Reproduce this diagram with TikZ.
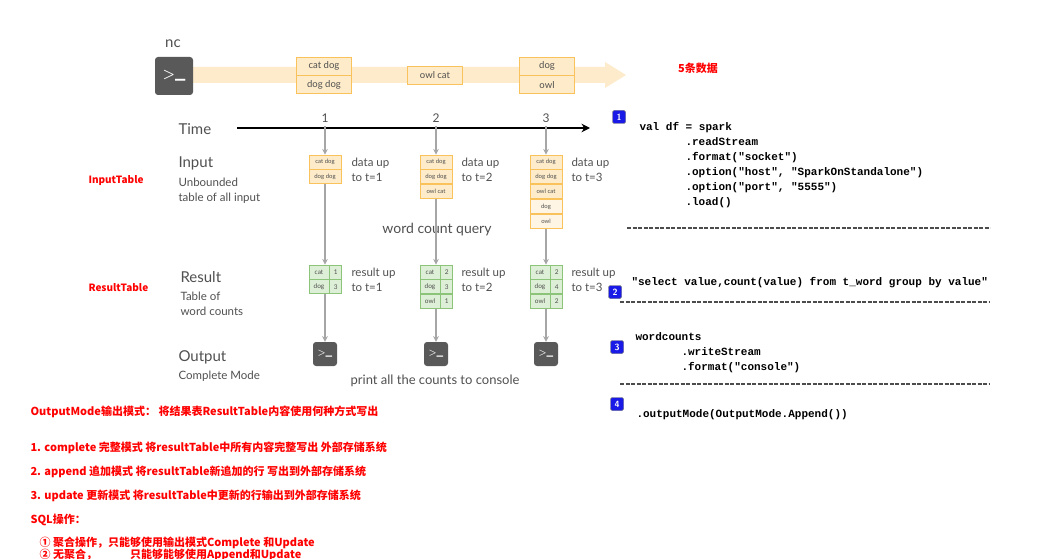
\documentclass[tikz,border=0pt]{standalone}
\usepackage{fontspec}
\setmainfont{Lato}
\newfontfamily\codefont{Liberation Mono}
\newfontfamily\cjk{Noto Sans CJK SC}
\usetikzlibrary{arrows.meta,positioning}
\definecolor{inborder}{HTML}{F9C25A}
\definecolor{infill}{HTML}{FDEBC9}
\definecolor{resborder}{HTML}{8CC47A}
\definecolor{resfill}{HTML}{DDEFD6}
\definecolor{band}{HTML}{FDEBCB}
\definecolor{badge}{HTML}{1A1AE6}
\definecolor{labelgray}{HTML}{505050}
\newcommand{\ind}{\hspace*{46pt}}
\tikzset{%
  >={Stealth[width=2mm,length=2mm]},
  % Specifications for style of nodes:
  incell/.style = {rectangle, draw=inborder, fill=infill, line width=0.8pt,
                   minimum width=32, minimum height=14, inner sep=0pt,
                   font=\fontsize{6}{6}\selectfont, text=labelgray},
  bandcell/.style = {incell, minimum width=55, minimum height=18,
                     font=\fontsize{9.5}{9.5}\selectfont},
  rescell/.style = {rectangle, draw=resborder, fill=resfill, line width=0.8pt,
                    minimum height=14, inner sep=0pt,
                    font=\fontsize{6.5}{6.5}\selectfont, text=labelgray},
  term/.style = {rectangle, rounded corners=3, fill=black!65, text=white,
                 inner sep=0pt, font=\bfseries\sffamily},
  flow/.style = {->, gray!70, line width=1.2pt},
  side/.style = {anchor=west, text=labelgray, align=left},
  redtext/.style = {anchor=west, text=red, font=\cjk\bfseries\fontsize{11}{11}\selectfont},
  code/.style = {anchor=north west, align=left, font=\codefont\bfseries\fontsize{11}{15}\selectfont},
  num/.style = {rectangle, rounded corners=1.5, draw=black!60, fill=badge, text=white,
                minimum size=13, inner sep=0pt, font=\sffamily\bfseries\fontsize{9}{9}\selectfont},
  sep/.style = {dash pattern=on 4pt off 1.5pt, line width=1.2pt, black!70}
}
\begin{document}
\begin{tikzpicture}[x=1pt, y=-1pt]
  \useasboundingbox (0,0) rectangle (1047,559);
  % source band
  \fill[band] (193,67) -- (605,67) -- (605,62) -- (626,75) -- (605,88) -- (605,83) -- (193,83) -- cycle;
  \node (nc) [text=labelgray, font=\fontsize{15}{15}\selectfont] at (173,44) {nc};
  \node (src) [term, minimum size=38] at (174,76) {\fontsize{14}{14}\selectfont >\_};
  \node (b1a) [bandcell] at (324,66) {cat dog};
  \node (b1b) [bandcell, below=0pt of b1a] {dog dog};
  \node (b2)  [bandcell] at (435,75) {owl cat};
  \node (b3a) [bandcell] at (547,66) {dog};
  \node (b3b) [bandcell, below=0pt of b3a] {owl};
  \node (five) [text=red, font=\cjk\bfseries\fontsize{11}{11}\selectfont] at (698,68) {5条数据};
  % time axis
  \node (time) [side, font=\fontsize{15}{15}\selectfont] at (175,129) {Time};
  \coordinate (t0) at (237,128);
  \coordinate (t1) at (590,128);
  \draw[-{Stealth[width=3mm,length=3mm]}, line width=1.5pt] (t0) -- (t1);
  \foreach \x/\n in {325/1,436/2,546/3}
    \node (tick\n) [text=labelgray, font=\fontsize{12}{12}\selectfont] at (\x,118) {\n};
  % row labels
  \node (inlbl) [side, font=\fontsize{15}{15}\selectfont] at (175,163) {Input};
  \node (inlbl2) [side, font=\fontsize{11.5}{15}\selectfont, anchor=north west] at (175,174) {Unbounded\\table of all input};
  \node (reslbl) [side, font=\fontsize{15}{15}\selectfont] at (177,277) {Result};
  \node (reslbl2) [side, font=\fontsize{11.5}{15}\selectfont, anchor=north west] at (177,288) {Table of\\word counts};
  \node (outlbl) [side, font=\fontsize{15}{15}\selectfont] at (175,357) {Output};
  \node (outlbl2) [side, font=\fontsize{11.5}{11.5}\selectfont] at (175,376) {Complete Mode};
  \node (intab) [redtext, font=\cjk\bfseries\fontsize{10}{10}\selectfont] at (85,181) {InputTable};
  \node (restab) [redtext, font=\cjk\bfseries\fontsize{10}{10}\selectfont] at (85,288) {ResultTable};
  % input tables
  \node (i1a) [incell] at (325,162) {cat dog};
  \node (i1b) [incell, below=0pt of i1a] {dog dog};
  \node (i2a) [incell] at (436,162) {cat dog};
  \node (i2b) [incell, below=0pt of i2a] {dog dog};
  \node (i2c) [incell, below=0pt of i2b] {owl cat};
  \node (i3a) [incell] at (546,162) {cat dog};
  \node (i3b) [incell, below=0pt of i3a] {dog dog};
  \node (i3c) [incell, below=0pt of i3b] {owl cat};
  \node (i3d) [incell, fill=infill!50, below=0pt of i3c] {dog};
  \node (i3e) [incell, fill=infill!50, below=0pt of i3d] {owl};
  \foreach \c/\x in {1/348,2/458,3/568}
    \node (dat\c) [side, font=\fontsize{11.5}{15}\selectfont, anchor=north west] at (\x,154) {data up\\to t=\c};
  \node (query) [text=labelgray, font=\fontsize{14}{14}\selectfont] at (437,230) {word count query};
  % result tables
  \foreach \c/\x/\na/\nb in {1/325/1/3,2/436/2/3,3/546/2/4} {
    \node (r\c a) [rescell, minimum width=20] at (\x-6,272) {cat};
    \node (r\c ak) [rescell, minimum width=12, right=0pt of r\c a] {\na};
    \node (r\c b) [rescell, minimum width=20, below=0pt of r\c a] {dog};
    \node (r\c bk) [rescell, minimum width=12, right=0pt of r\c b] {\nb};
  }
  \node (r2c) [rescell, minimum width=20, below=0pt of r2b] {owl};
  \node (r2ck) [rescell, minimum width=12, right=0pt of r2c] {1};
  \node (r3c) [rescell, minimum width=20, below=0pt of r3b] {owl};
  \node (r3ck) [rescell, minimum width=12, right=0pt of r3c] {2};
  \foreach \c/\x in {1/348,2/458,3/568}
    \node (res\c) [side, font=\fontsize{11.5}{15}\selectfont, anchor=north west] at (\x,264) {result up\\to t=\c};
  % output
  \node (o1) [term, minimum size=24] at (325,354) {\fontsize{9}{9}\selectfont >\_};
  \node (o2) [term, minimum size=24] at (436,354) {\fontsize{9}{9}\selectfont >\_};
  \node (o3) [term, minimum size=24] at (546,354) {\fontsize{9}{9}\selectfont >\_};
  \node (print) [text=labelgray, font=\fontsize{13}{13}\selectfont] at (435,381) {print all the counts to console};
  % connectors
  \draw[flow] (tick1) -- (i1a);
  \draw[flow] (tick2) -- (i2a);
  \draw[flow] (tick3) -- (i3a);
  \draw[flow] (i1b) -- (r1a.north -| i1b);
  \draw[flow] (i2c) -- (r2a.north -| i2c);
  \draw[flow] (i3e) -- (r3a.north -| i3e);
  \draw[flow] (r1b.south -| o1) -- (o1);
  \draw[flow] (r2c.south -| o2) -- (o2);
  \draw[flow] (r3c.south -| o3) -- (o3);
  % code
  \node (n1) [num] at (619,117) {1};
  \node (c1) [code] at (636,119) {val df = spark\\\ind.readStream\\\ind.format("socket")\\\ind.option("host", "SparkOnStandalone")\\\ind.option("port", "5555")\\\ind.load()};
  \draw[sep] (627,228) -- (990,228);
  \node (n2) [num] at (615,292) {2};
  \begin{scope}
    \clip (620,270) rectangle (990,295);
    \node (c2) [code] at (628,274) {"select value,count(value) from t\_word group by value"};
  \end{scope}
  \draw[sep] (620,302) -- (990,302);
  \node (n3) [num] at (617,347) {3};
  \node (c3) [code] at (632,329) {wordcounts\\\ind.writeStream\\\ind.format("console")};
  \draw[sep] (620,384) -- (990,384);
  \node (n4) [num] at (617,404) {4};
  \node (c4) [code] at (633,406) {.outputMode(OutputMode.Append())};
  % notes
  \node (om) [redtext] at (27,412) {OutputMode输出模式：\ 将结果表ResultTable内容使用何种方式写出};
  \node (m1) [redtext] at (27,448) {1. complete 完整模式 将resultTable中所有内容完整写出 外部存储系统};
  \node (m2) [redtext] at (27,472) {2. append 追加模式 将resultTable新追加的行 写出到外部存储系统};
  \node (m3) [redtext] at (27,496) {3. update 更新模式 将resultTable中更新的行输出到外部存储系统};
  \node (sql) [redtext] at (27,520) {SQL操作：};
  \node (s1) [redtext] at (36,543) {① 聚合操作，只能够使用输出模式Complete 和Update};
  \node (s2) [redtext] at (36,555) {② 无聚合，\qquad\quad 只能够能够使用Append和Update};
\end{tikzpicture}
\end{document}
